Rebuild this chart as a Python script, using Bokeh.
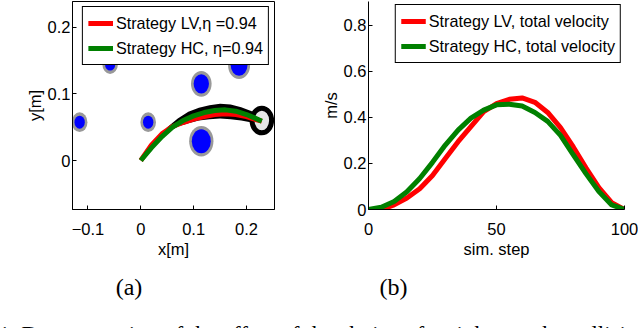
from bokeh.plotting import figure
from bokeh.layouts import row, column
from bokeh.models import FixedTicker, Label, Range1d
from bokeh.embed import file_html
from bokeh.resources import INLINE

# ---------------- data: panel (a) ----------------
lv_x = [0.0, 0.02, 0.04, 0.06, 0.08, 0.10, 0.12, 0.14, 0.16, 0.18, 0.20, 0.215, 0.229]
lv_y = [0.0, 0.023, 0.040, 0.051, 0.057, 0.062, 0.066, 0.069, 0.070, 0.069, 0.066, 0.062, 0.059]
hc_x = [0.0, 0.02, 0.04, 0.06, 0.08, 0.10, 0.12, 0.14, 0.16, 0.18, 0.20, 0.215, 0.229]
hc_y = [0.0, 0.019, 0.036, 0.050, 0.060, 0.067, 0.072, 0.075, 0.076, 0.074, 0.069, 0.064, 0.059]

sweep_x = [0.035, 0.05, 0.07, 0.09, 0.11, 0.13, 0.15, 0.17, 0.19, 0.21, 0.225]
sweep_top = [0.036, 0.050, 0.063, 0.073, 0.079, 0.083, 0.085, 0.084, 0.080, 0.074, 0.069]
sweep_bot = [0.032, 0.042, 0.051, 0.056, 0.060, 0.062, 0.063, 0.062, 0.060, 0.057, 0.054]

obs_x = [-0.1157, 0.0140, -0.0580, 0.1145, 0.1145, 0.1860]
obs_y = [0.0575, 0.0575, 0.1447, 0.1150, 0.0290, 0.1430]
obs_r = [0.0098, 0.0098, 0.0098, 0.0145, 0.0180, 0.0158]
obs_margin = 0.005

goal_x = [0.229]
goal_y = [0.060]
goal_r = [0.0185]

xticks_a = [-0.1, 0.0, 0.1, 0.2]
xlabels_a = ["\u22120.1", "0", "0.1", "0.2"]
yticks_a = [0.0, 0.1, 0.2]
ylabels_a = ["0", "0.1", "0.2"]

# ---------------- data: panel (b) ----------------
steps = [0, 5, 10, 15, 20, 25, 30, 35, 40, 45, 50, 55, 60, 65, 70, 75, 80, 85, 90, 95, 100]
vel_lv = [0.0, 0.0, 0.02, 0.05, 0.09, 0.148, 0.222, 0.295, 0.36, 0.425, 0.46, 0.479, 0.485,
          0.466, 0.422, 0.356, 0.272, 0.18, 0.095, 0.03, 0.0]
vel_hc = [0.0, 0.01, 0.035, 0.077, 0.135, 0.205, 0.28, 0.345, 0.397, 0.432, 0.455, 0.458, 0.45,
          0.422, 0.383, 0.322, 0.238, 0.155, 0.078, 0.02, 0.0]

xticks_b = [0, 50, 100]
xlabels_b = ["0", "50", "100"]
yticks_b = [0.0, 0.2, 0.4, 0.6, 0.8]
ylabels_b = ["0", "0.2", "0.4", "0.6", "0.8"]

RED = "#ff0000"
GREEN = "#008000"
BLUE = "#0000ff"
GRAY = "#999999"
SANS = "Liberation Sans"
SERIF = "Liberation Serif"


def style_axis(ax, ticks, labels, is_x):
    ax.ticker = FixedTicker(ticks=ticks)
    ax.major_label_overrides = {t: l for t, l in zip(ticks, labels)}
    ax.major_tick_in = 4
    ax.major_tick_out = 0
    ax.minor_tick_line_color = None
    ax.axis_line_color = "black"
    ax.major_tick_line_color = "black"
    ax.major_label_text_font = SANS
    ax.major_label_text_font_size = "16.5px"
    ax.major_label_text_color = "black"
    ax.axis_label_text_font = SANS
    ax.axis_label_text_font_size = "16.5px"
    ax.axis_label_text_font_style = "normal"
    ax.axis_label_text_color = "black"
    if is_x:
        ax.major_label_standoff = 13
        ax.axis_label_standoff = 2
    else:
        ax.major_label_standoff = 2
        ax.axis_label_standoff = 1


def style_legend(p, margin):
    lg = p.legend[0]
    lg.location = "top_right"
    lg.margin = margin
    lg.padding = 5
    lg.spacing = 3
    lg.border_line_color = "black"
    lg.border_line_width = 1
    lg.border_line_alpha = 1
    lg.background_fill_color = "white"
    lg.background_fill_alpha = 1
    lg.label_text_font = SANS
    lg.label_text_font_size = "16.2px"
    lg.label_text_color = "black"
    lg.glyph_width = 25
    lg.glyph_height = 22
    lg.label_height = 22
    lg.label_standoff = 3


# ---------------- panel (a) ----------------
p1 = figure(width=318, height=262, x_range=Range1d(-0.1292, 0.2530), y_range=Range1d(-0.0735, 0.2386),
            min_border_left=72, min_border_right=44, min_border_top=1, min_border_bottom=53,
            output_backend="svg", toolbar_location=None)
p1.xgrid.visible = False
p1.ygrid.visible = False
p1.outline_line_color = "black"
p1.outline_line_alpha = 1
p1.background_fill_color = "white"
p1.border_fill_color = "white"

gray_w = [2 * (r + obs_margin) for r in obs_r]
blue_w = [2 * r for r in obs_r]
p1.ellipse(x=obs_x, y=obs_y, width=gray_w, height=gray_w, fill_color=GRAY, line_color=None)
p1.ellipse(x=obs_x, y=obs_y, width=blue_w, height=blue_w, fill_color=BLUE, line_color=None)
p1.varea(x=sweep_x, y1=sweep_bot, y2=sweep_top, fill_color="black")
goal_w = [2 * r for r in goal_r]
p1.ellipse(x=goal_x, y=goal_y, width=goal_w, height=goal_w, fill_color="#e6e6e6",
           line_color="black", line_width=5)
p1.line(lv_x, lv_y, line_color=RED, line_width=5, legend_label="Strategy LV,\u03b7 =0.94")
p1.line(hc_x, hc_y, line_color=GREEN, line_width=5, legend_label="Strategy HC, \u03b7=0.94")

style_axis(p1.xaxis[0], xticks_a, xlabels_a, True)
style_axis(p1.yaxis[0], yticks_a, ylabels_a, False)
p1.xaxis[0].axis_label = "x[m]"
p1.yaxis[0].axis_label = "y[m]"
style_legend(p1, 5)

# ---------------- panel (b) ----------------
p2 = figure(width=320, height=262, x_range=Range1d(0, 100), y_range=Range1d(0, 0.9043),
            min_border_left=48, min_border_right=14, min_border_top=1, min_border_bottom=53,
            output_backend="svg", toolbar_location=None)
p2.xgrid.visible = False
p2.ygrid.visible = False
p2.outline_line_color = None
p2.background_fill_color = "white"
p2.border_fill_color = "white"
p2.line(steps, vel_lv, line_color=RED, line_width=5, legend_label="Strategy LV, total velocity")
p2.line(steps, vel_hc, line_color=GREEN, line_width=5, legend_label="Strategy HC, total velocity")
style_axis(p2.xaxis[0], xticks_b, xlabels_b, True)
style_axis(p2.yaxis[0], yticks_b, ylabels_b, False)
p2.xaxis[0].axis_label = "sim. step"
p2.yaxis[0].axis_label = "m/s"
style_legend(p2, 3)

# ---------------- captions ----------------
p3 = figure(width=638, height=66, x_range=Range1d(0, 638), y_range=Range1d(66, 0),
            min_border=0, x_axis_type=None, y_axis_type=None, outline_line_color=None,
            output_backend="svg", toolbar_location=None)
p3.xgrid.visible = False
p3.ygrid.visible = False
p3.background_fill_color = "white"
p3.border_fill_color = "white"
for txt, cx in [("(a)", 128.5), ("(b)", 393)]:
    p3.add_layout(Label(x=cx, y=24, text=txt, text_align="center", text_baseline="middle",
                        text_font=SERIF, text_font_size="24px", text_color="black"))
p3.add_layout(Label(x=-2, y=72, text="1.   Demonstration of the effect of the choice of weights on the collision",
                    text_align="left", text_baseline="alphabetic", text_font=SERIF,
                    text_font_size="23px", text_color="black"))

layout = column(row(p1, p2), p3)
open("out.html", "w").write(file_html(layout, INLINE))
